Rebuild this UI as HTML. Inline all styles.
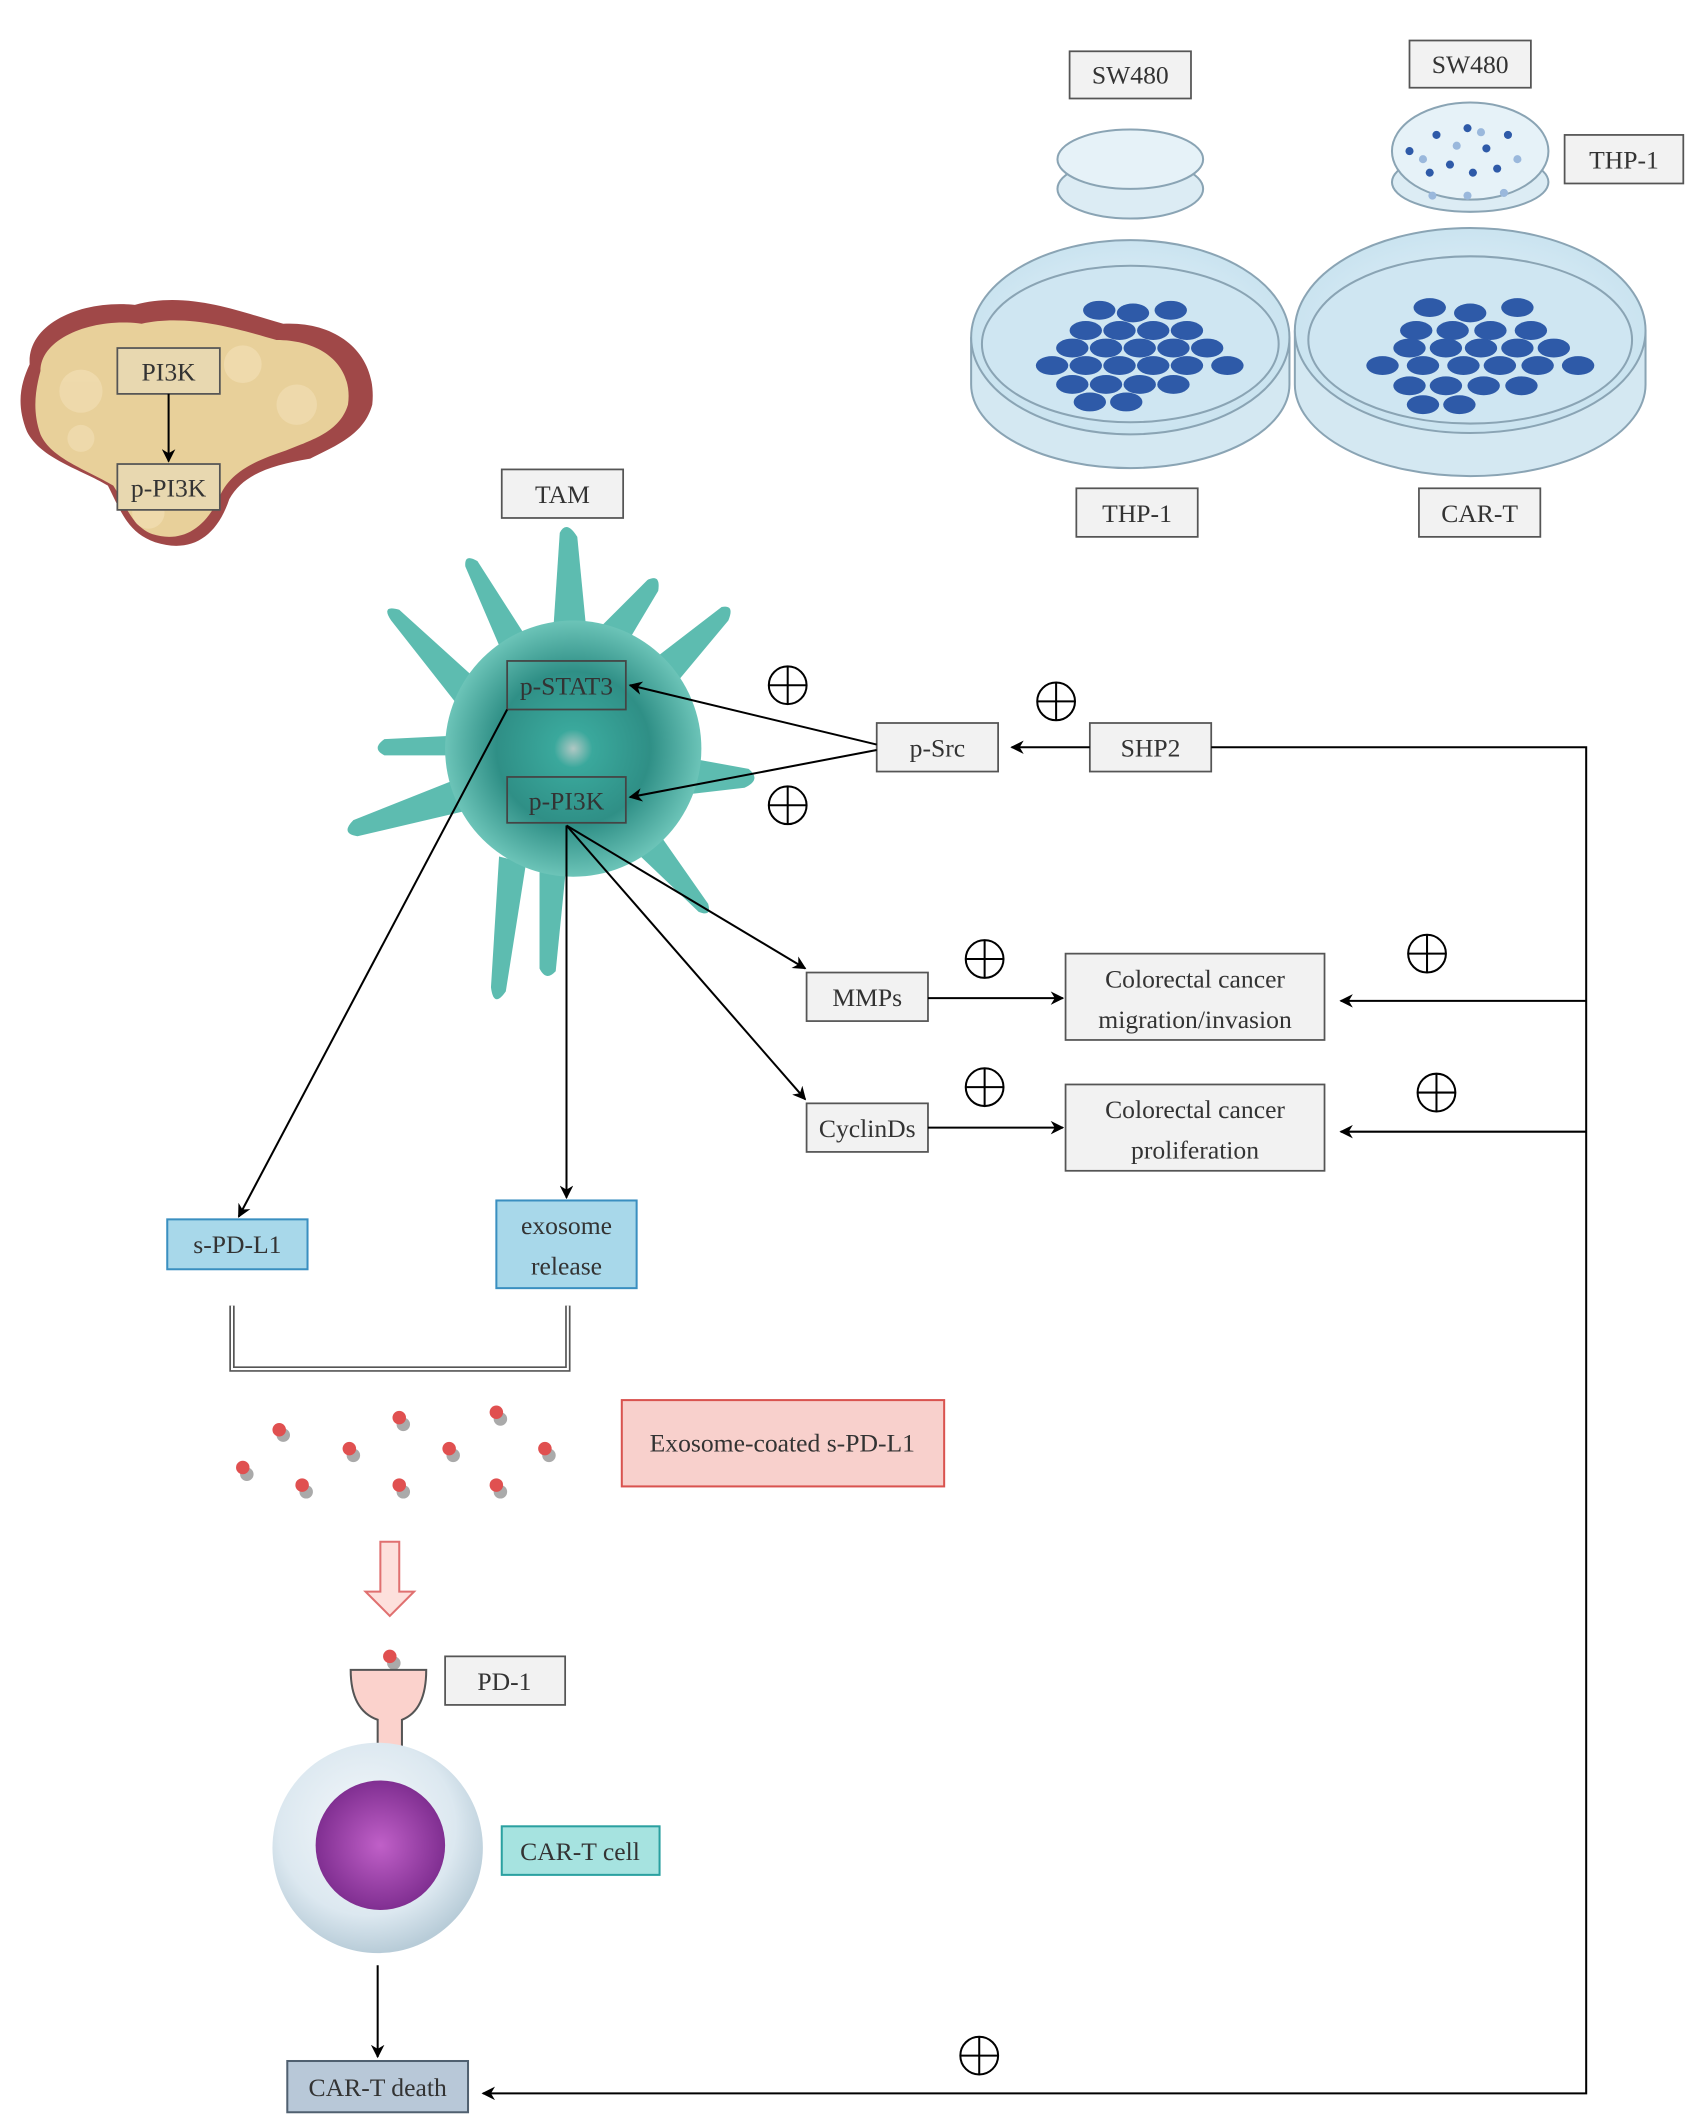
<!DOCTYPE html>
<html><head><meta charset="utf-8"><style>
html,body{margin:0;padding:0;background:#fff}
svg{display:block}
text{font-family:"Liberation Serif",serif;fill:#333}
</style></head><body>
<svg width="1686" height="2115" viewBox="0 0 1250 1568" xmlns="http://www.w3.org/2000/svg">
<defs>
<marker id="ar" markerWidth="10" markerHeight="10" refX="9" refY="5" orient="auto" markerUnits="userSpaceOnUse">
<path d="M0,0 L10,5 L0,10 L3,5 z" fill="#000"/></marker>
<radialGradient id="tam" cx="50%" cy="50%" r="50%">
<stop offset="0" stop-color="#b0c8c4"/><stop offset="0.15" stop-color="#3aa89c"/><stop offset="0.6" stop-color="#2f8f86"/><stop offset="1" stop-color="#6cc4b8"/></radialGradient>
<radialGradient id="cell" cx="45%" cy="40%" r="60%"><stop offset="0" stop-color="#f4f8fb"/><stop offset="0.7" stop-color="#dce8f0"/><stop offset="1" stop-color="#b8ccd8"/></radialGradient>
<radialGradient id="nuc" cx="50%" cy="50%" r="55%"><stop offset="0" stop-color="#c060c8"/><stop offset="1" stop-color="#7a2a8c"/></radialGradient>
<radialGradient id="dish" cx="50%" cy="50%" r="60%"><stop offset="0" stop-color="#e8f4fa"/><stop offset="1" stop-color="#c4e0ee"/></radialGradient>
</defs>

<!-- tumor blob -->
<path d="M22,270 C20,240 60,222 100,226 C140,215 180,232 210,240 C250,238 280,262 276,300 C270,322 250,330 230,340 C200,345 180,352 170,370 C160,400 140,410 115,402 C95,395 90,380 80,360 C60,348 30,340 20,320 C12,300 15,285 22,270 Z" fill="#a04848"/>
<path d="M30,275 C30,250 70,235 105,240 C140,232 180,245 205,252 C240,252 262,272 258,300 C252,320 232,326 212,334 C188,342 170,350 162,370 C150,395 132,402 113,396 C98,390 94,376 84,360 C64,348 38,340 30,322 C24,305 26,290 30,275 Z" fill="#e8d09a"/>
<g fill="#f0dcb0" opacity="0.8"><circle cx="60" cy="290" r="16"/><circle cx="180" cy="270" r="14"/><circle cx="220" cy="300" r="15"/><circle cx="110" cy="380" r="12"/><circle cx="60" cy="325" r="10"/></g>
<g fill="#eee" stroke="#555" stroke-width="1.3">
<rect x="87" y="258" width="76" height="34" fill="#e8d8b0"/><rect x="87" y="344" width="76" height="34" fill="#e8d8b0"/></g>
<text x="125" y="282" font-size="19" text-anchor="middle">PI3K</text>
<text x="125" y="368" font-size="19" text-anchor="middle">p-PI3K</text>
<line x1="125" y1="292" x2="125" y2="342" stroke="#000" stroke-width="1.5" marker-end="url(#ar)"/>

<!-- petri dishes -->
<g stroke="#8aa4b4" stroke-width="1.5">
<ellipse cx="838" cy="140" rx="54" ry="22" fill="#dcecf4"/><ellipse cx="838" cy="118" rx="54" ry="22" fill="#e6f2f8"/>
<ellipse cx="1090" cy="135" rx="58" ry="22" fill="#dcecf4"/><ellipse cx="1090" cy="112" rx="58" ry="36" fill="#e6f2f8"/>
<path d="M720,250 L720,285 A118,62 0 0 0 956,285 L956,250" fill="#d4e8f2"/>
<ellipse cx="838" cy="250" rx="118" ry="72" fill="url(#dish)"/>
<ellipse cx="838" cy="255" rx="110" ry="58" fill="#cfe6f2"/>
<path d="M960,245 L960,285 A130,68 0 0 0 1220,285 L1220,245" fill="#d4e8f2"/>
<ellipse cx="1090" cy="245" rx="130" ry="76" fill="url(#dish)"/>
<ellipse cx="1090" cy="252" rx="120" ry="62" fill="#cfe6f2"/>
</g>
<g fill="#2e5aa8">
<ellipse cx="815" cy="230" rx="12" ry="7"/><ellipse cx="840" cy="232" rx="12" ry="7"/><ellipse cx="868" cy="230" rx="12" ry="7"/>
<ellipse cx="805" cy="245" rx="12" ry="7"/><ellipse cx="830" cy="245" rx="12" ry="7"/><ellipse cx="855" cy="245" rx="12" ry="7"/><ellipse cx="880" cy="245" rx="12" ry="7"/>
<ellipse cx="795" cy="258" rx="12" ry="7"/><ellipse cx="820" cy="258" rx="12" ry="7"/><ellipse cx="845" cy="258" rx="12" ry="7"/><ellipse cx="870" cy="258" rx="12" ry="7"/><ellipse cx="895" cy="258" rx="12" ry="7"/>
<ellipse cx="780" cy="271" rx="12" ry="7"/><ellipse cx="805" cy="271" rx="12" ry="7"/><ellipse cx="830" cy="271" rx="12" ry="7"/><ellipse cx="855" cy="271" rx="12" ry="7"/><ellipse cx="880" cy="271" rx="12" ry="7"/><ellipse cx="910" cy="271" rx="12" ry="7"/>
<ellipse cx="795" cy="285" rx="12" ry="7"/><ellipse cx="820" cy="285" rx="12" ry="7"/><ellipse cx="845" cy="285" rx="12" ry="7"/><ellipse cx="870" cy="285" rx="12" ry="7"/>
<ellipse cx="808" cy="298" rx="12" ry="7"/><ellipse cx="835" cy="298" rx="12" ry="7"/>
<ellipse cx="1060" cy="228" rx="12" ry="7"/><ellipse cx="1090" cy="232" rx="12" ry="7"/><ellipse cx="1125" cy="228" rx="12" ry="7"/>
<ellipse cx="1050" cy="245" rx="12" ry="7"/><ellipse cx="1077" cy="245" rx="12" ry="7"/><ellipse cx="1105" cy="245" rx="12" ry="7"/><ellipse cx="1135" cy="245" rx="12" ry="7"/>
<ellipse cx="1045" cy="258" rx="12" ry="7"/><ellipse cx="1072" cy="258" rx="12" ry="7"/><ellipse cx="1098" cy="258" rx="12" ry="7"/><ellipse cx="1125" cy="258" rx="12" ry="7"/><ellipse cx="1152" cy="258" rx="12" ry="7"/>
<ellipse cx="1025" cy="271" rx="12" ry="7"/><ellipse cx="1055" cy="271" rx="12" ry="7"/><ellipse cx="1085" cy="271" rx="12" ry="7"/><ellipse cx="1112" cy="271" rx="12" ry="7"/><ellipse cx="1140" cy="271" rx="12" ry="7"/><ellipse cx="1170" cy="271" rx="12" ry="7"/>
<ellipse cx="1045" cy="286" rx="12" ry="7"/><ellipse cx="1072" cy="286" rx="12" ry="7"/><ellipse cx="1100" cy="286" rx="12" ry="7"/><ellipse cx="1128" cy="286" rx="12" ry="7"/>
<ellipse cx="1055" cy="300" rx="12" ry="7"/><ellipse cx="1082" cy="300" rx="12" ry="7"/>
<circle cx="1045" cy="112" r="3"/><circle cx="1065" cy="100" r="3"/><circle cx="1088" cy="95" r="3"/><circle cx="1102" cy="110" r="3"/><circle cx="1075" cy="122" r="3"/><circle cx="1110" cy="125" r="3"/><circle cx="1060" cy="128" r="3"/><circle cx="1118" cy="100" r="3"/><circle cx="1092" cy="128" r="3"/>
</g>
<g fill="#9ab8dc"><circle cx="1055" cy="118" r="3"/><circle cx="1080" cy="108" r="3"/><circle cx="1098" cy="98" r="3"/><circle cx="1125" cy="118" r="3"/><circle cx="1062" cy="145" r="3"/><circle cx="1088" cy="145" r="3"/><circle cx="1115" cy="143" r="3"/></g>

<!-- TAM cell -->
<g fill="#5dbcb0">
<path d="M410,470 L415,395 Q420,385 428,398 L435,470 Z"/>
<path d="M440,470 L480,430 Q490,425 488,438 L460,485 Z"/>
<path d="M470,500 L535,450 Q545,448 540,460 L490,520 Z"/>
<path d="M500,560 L555,570 Q565,578 552,584 L500,590 Z"/>
<path d="M490,620 L525,670 Q528,680 518,676 L475,635 Z"/>
<path d="M420,640 L412,720 Q405,728 400,718 L400,640 Z"/>
<path d="M390,640 L375,735 Q366,748 364,732 L370,635 Z"/>
<path d="M350,600 L265,620 Q252,618 262,608 L345,575 Z"/>
<path d="M345,530 L290,460 Q282,448 296,452 L360,510 Z"/>
<path d="M375,490 L345,420 Q344,410 354,416 L395,480 Z"/>
<path d="M340,560 L285,560 Q275,555 285,548 L345,545 Z"/>
</g>
<circle cx="425" cy="555" r="95" fill="url(#tam)"/>
<rect x="376" y="490" width="88" height="36" fill="none" stroke="#444" stroke-width="1.3"/>
<rect x="376" y="576" width="88" height="34" fill="none" stroke="#444" stroke-width="1.3"/>
<text x="420" y="515" font-size="19" text-anchor="middle">p-STAT3</text>
<text x="420" y="600" font-size="19" text-anchor="middle">p-PI3K</text>

<!-- gray boxes -->
<g fill="#f2f2f2" stroke="#555" stroke-width="1.3">
<rect x="372" y="348" width="90" height="36"/>
<rect x="793" y="38" width="90" height="35"/><rect x="1045" y="30" width="90" height="35"/>
<rect x="1160" y="100" width="88" height="36"/>
<rect x="798" y="362" width="90" height="36"/><rect x="1052" y="362" width="90" height="36"/>
<rect x="650" y="536" width="90" height="36"/><rect x="808" y="536" width="90" height="36"/>
<rect x="598" y="721" width="90" height="36"/><rect x="598" y="818" width="90" height="36"/>
<rect x="790" y="707" width="192" height="64"/><rect x="790" y="804" width="192" height="64"/>
<rect x="330" y="1228" width="89" height="36"/>
</g>
<g font-size="19" text-anchor="middle">
<text x="417" y="373">TAM</text>
<text x="838" y="62">SW480</text><text x="1090" y="54">SW480</text>
<text x="1204" y="125">THP-1</text>
<text x="843" y="387">THP-1</text><text x="1097" y="387">CAR-T</text>
<text x="695" y="561">p-Src</text><text x="853" y="561">SHP2</text>
<text x="643" y="746">MMPs</text><text x="643" y="843">CyclinDs</text>
<text x="886" y="732">Colorectal cancer</text><text x="886" y="762">migration/invasion</text>
<text x="886" y="829">Colorectal cancer</text><text x="886" y="859">proliferation</text>
<text x="374" y="1253">PD-1</text>
</g>
<rect x="124" y="904" width="104" height="37" fill="#a8d8ea" stroke="#3a8fc0" stroke-width="1.5"/>
<text x="176" y="929" font-size="19" text-anchor="middle">s-PD-L1</text>
<rect x="368" y="890" width="104" height="65" fill="#a8d8ea" stroke="#3a8fc0" stroke-width="1.5"/>
<text x="420" y="915" font-size="19" text-anchor="middle">exosome</text>
<text x="420" y="945" font-size="19" text-anchor="middle">release</text>
<rect x="461" y="1038" width="239" height="64" fill="#f8d0cc" stroke="#d9534f" stroke-width="1.5"/>
<text x="580" y="1076" font-size="19" text-anchor="middle">Exosome-coated s-PD-L1</text>
<rect x="372" y="1354" width="117" height="36" fill="#a6e3e0" stroke="#2aa0a0" stroke-width="1.5"/>
<text x="430" y="1379" font-size="19" text-anchor="middle">CAR-T cell</text>
<rect x="213" y="1528" width="134" height="38" fill="#b8c8d8" stroke="#506070" stroke-width="1.5"/>
<text x="280" y="1554" font-size="19" text-anchor="middle">CAR-T death</text>

<!-- connectors -->
<g stroke="#000" stroke-width="1.5" fill="none">
<line x1="808" y1="554" x2="750" y2="554" marker-end="url(#ar)"/>
<polyline points="898,554 1176,554 1176,1552 358,1552" marker-end="url(#ar)"/>
<line x1="1176" y1="742" x2="994" y2="742" marker-end="url(#ar)"/>
<line x1="1176" y1="839" x2="994" y2="839" marker-end="url(#ar)"/>
<line x1="650" y1="552" x2="467" y2="508" marker-end="url(#ar)"/>
<line x1="650" y1="556" x2="467" y2="591" marker-end="url(#ar)"/>
<line x1="420" y1="612" x2="597" y2="718" marker-end="url(#ar)"/>
<line x1="420" y1="612" x2="597" y2="815" marker-end="url(#ar)"/>
<line x1="420" y1="612" x2="420" y2="888" marker-end="url(#ar)"/>
<line x1="376" y1="526" x2="177" y2="902" marker-end="url(#ar)"/>
<line x1="688" y1="740" x2="788" y2="740" marker-end="url(#ar)"/>
<line x1="688" y1="836" x2="788" y2="836" marker-end="url(#ar)"/>
<line x1="280" y1="1457" x2="280" y2="1525" marker-end="url(#ar)"/>
</g>
<polyline points="172,968 172,1015 421,1015 421,968" fill="none" stroke="#555" stroke-width="4"/>
<polyline points="172,968 172,1015 421,1015 421,968" fill="none" stroke="#fff" stroke-width="1.5"/>

<!-- plus circles -->
<g stroke="#000" stroke-width="1.5" fill="none">
<g transform="translate(584,508)"><circle r="14"/><path d="M-14,0H14M0,-14V14"/></g>
<g transform="translate(584,597)"><circle r="14"/><path d="M-14,0H14M0,-14V14"/></g>
<g transform="translate(783,520)"><circle r="14"/><path d="M-14,0H14M0,-14V14"/></g>
<g transform="translate(730,711)"><circle r="14"/><path d="M-14,0H14M0,-14V14"/></g>
<g transform="translate(730,806)"><circle r="14"/><path d="M-14,0H14M0,-14V14"/></g>
<g transform="translate(1058,707)"><circle r="14"/><path d="M-14,0H14M0,-14V14"/></g>
<g transform="translate(1065,810)"><circle r="14"/><path d="M-14,0H14M0,-14V14"/></g>
<g transform="translate(726,1524)"><circle r="14"/><path d="M-14,0H14M0,-14V14"/></g>
</g>

<!-- dots -->
<g>
<g fill="#aaa"><circle cx="210" cy="1064" r="5"/><circle cx="299" cy="1056" r="5"/><circle cx="371" cy="1052" r="5"/><circle cx="183" cy="1093" r="5"/><circle cx="262" cy="1079" r="5"/><circle cx="336" cy="1079" r="5"/><circle cx="407" cy="1079" r="5"/><circle cx="227" cy="1106" r="5"/><circle cx="299" cy="1106" r="5"/><circle cx="371" cy="1106" r="5"/><circle cx="292" cy="1233" r="5"/></g>
<g fill="#e05050"><circle cx="207" cy="1060" r="5"/><circle cx="296" cy="1051" r="5"/><circle cx="368" cy="1047" r="5"/><circle cx="180" cy="1088" r="5"/><circle cx="259" cy="1074" r="5"/><circle cx="333" cy="1074" r="5"/><circle cx="404" cy="1074" r="5"/><circle cx="224" cy="1101" r="5"/><circle cx="296" cy="1101" r="5"/><circle cx="368" cy="1101" r="5"/><circle cx="289" cy="1228" r="5"/></g>
</g>

<!-- pink hollow arrow -->
<path d="M282,1143 H296 V1180 H307 L289,1198 L271,1180 H282 Z" fill="#fde0dc" stroke="#e07070" stroke-width="1.5"/>

<!-- PD-1 receptor -->
<path d="M260,1238 L316,1238 Q316,1268 298,1275 L298,1313 L280,1313 L280,1275 Q260,1268 260,1238 Z" fill="#fbd2cc" stroke="#555" stroke-width="1.5"/>

<!-- CAR-T cell -->
<circle cx="280" cy="1370" r="78" fill="url(#cell)"/>
<circle cx="282" cy="1368" r="48" fill="url(#nuc)"/>
</svg>
</body></html>
